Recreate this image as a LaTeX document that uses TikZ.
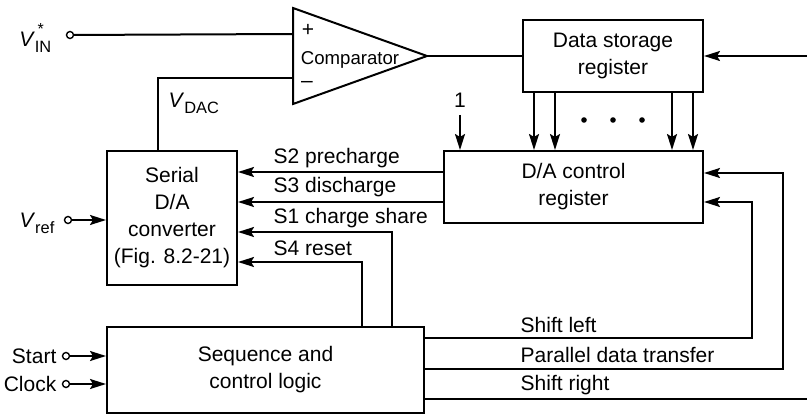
\documentclass[tikz,border=0pt]{standalone}
\usepackage{fontspec}
\setmainfont{Liberation Sans}
\usetikzlibrary{arrows.meta}
\newcommand{\sigsub}[1]{\raisebox{-0.55ex}{\fontsize{8.2}{9}\selectfont #1}}
\newcommand{\sigv}[1]{\textit{V}\sigsub{#1}}

\begin{document}
\begin{tikzpicture}[x=0.5pt,y=-0.5pt,line width=1pt,>={Stealth[length=8pt,width=5pt,inset=1.5pt]},
    font=\fontsize{10.5}{13.5}\selectfont]
  \tikzset{block/.style={draw,align=center,inner sep=0pt},
    pin/.style={draw,circle,inner sep=0pt,minimum size=3.5pt,line width=0.7pt}}
  \useasboundingbox (0,0) rectangle (807,416);

  \node[block,minimum width=65pt,minimum height=67pt]    (dac) at (172,218)   {Serial\\D/A\\converter\\(Fig. 8.2-21)};
  \node[block,minimum width=90pt,minimum height=36pt]    (dsr) at (613,56)    {Data storage\\register};
  \node[block,minimum width=129.5pt,minimum height=36pt] (ctl) at (573.5,187) {D/A control\\register};
  \node[block,minimum width=158.5pt,minimum height=43pt] (seq) at (265.5,370) {Sequence and\\control logic};

  \coordinate (cp) at (293,34);
  \coordinate (cm) at (293,78);
  \coordinate (co) at (427,56);
  \draw (293,8) -- (co) -- (293,104) -- cycle;
  \node at (308,30) {+};
  \node at (350,60) {\fontsize{9.3}{11}\selectfont Comparator};
  \node at (307,84) {--};

  \node[pin] (vin)  at (70,35)  {};
  \node[pin] (vref) at (68,220) {};
  \node[pin] (start) at (66,356) {};
  \node[pin] (clk)   at (66,384) {};
  \node[anchor=east] at (59,38)  {\textit{V}\rlap{\raisebox{1.1ex}{\footnotesize\,*}}\sigsub{IN}};
  \node[anchor=east] at (62,223) {\sigv{ref}};
  \node[anchor=east] at (64,356) {Start};
  \node[anchor=east] at (64,384) {Clock};

  \draw (vin) -- (cp);
  \draw[->] (vref)  -- (vref -| dac.west);
  \draw[->] (start) -- (start -| seq.west);
  \draw[->] (clk)   -- (clk -| seq.west);

  \coordinate (vdac) at (158,78);
  \draw (cm) -- (vdac) -- (vdac |- dac.north);
  \node[anchor=west] at (161,103) {\sigv{DAC}};

  \coordinate (ret) at (807,56);
  \draw (co) -- (dsr.west);
  \draw[<-] (dsr.east) -- (ret);

  \foreach \x in {534,555,672,693}
    \draw[->] (\x,0 |- dsr.south) -- (\x,0 |- ctl.north);
  \foreach \x in {584,613,642}
    \fill (\x,120) circle (1.4pt);
  \node (one) at (460,100) {1};
  \draw[->] (one.south) -- (one.south |- ctl.north);

  \draw[->] (ctl.west |- 0,172) -- (dac.east |- 0,172);
  \draw[->] (ctl.west |- 0,202) -- (dac.east |- 0,202);
  \draw[->] (392,0 |- seq.north) -- (392,232) -- (dac.east |- 0,232);
  \draw[->] (362,0 |- seq.north) -- (362,262) -- (dac.east |- 0,262);
  \node[anchor=west] at (266,158) {S2 precharge};
  \node[anchor=west] at (266,187) {S3 discharge};
  \node[anchor=west] at (266,218) {S1 charge share};
  \node[anchor=west] at (266,248) {S4 reset};

  \draw[->] (seq.east |- 0,338) -- (752,338) -- (752,202) -- (ctl.east |- 0,202);
  \draw[->] (seq.east |- 0,369) -- (783,369) -- (783,173) -- (ctl.east |- 0,173);
  \draw (seq.east |- 0,399) -- (807,399);
  \node[anchor=west] at (513,325) {Shift left};
  \node[anchor=west] at (513,355) {Parallel data transfer};
  \node[anchor=west] at (513,385) {Shift right};
\end{tikzpicture}
\end{document}
